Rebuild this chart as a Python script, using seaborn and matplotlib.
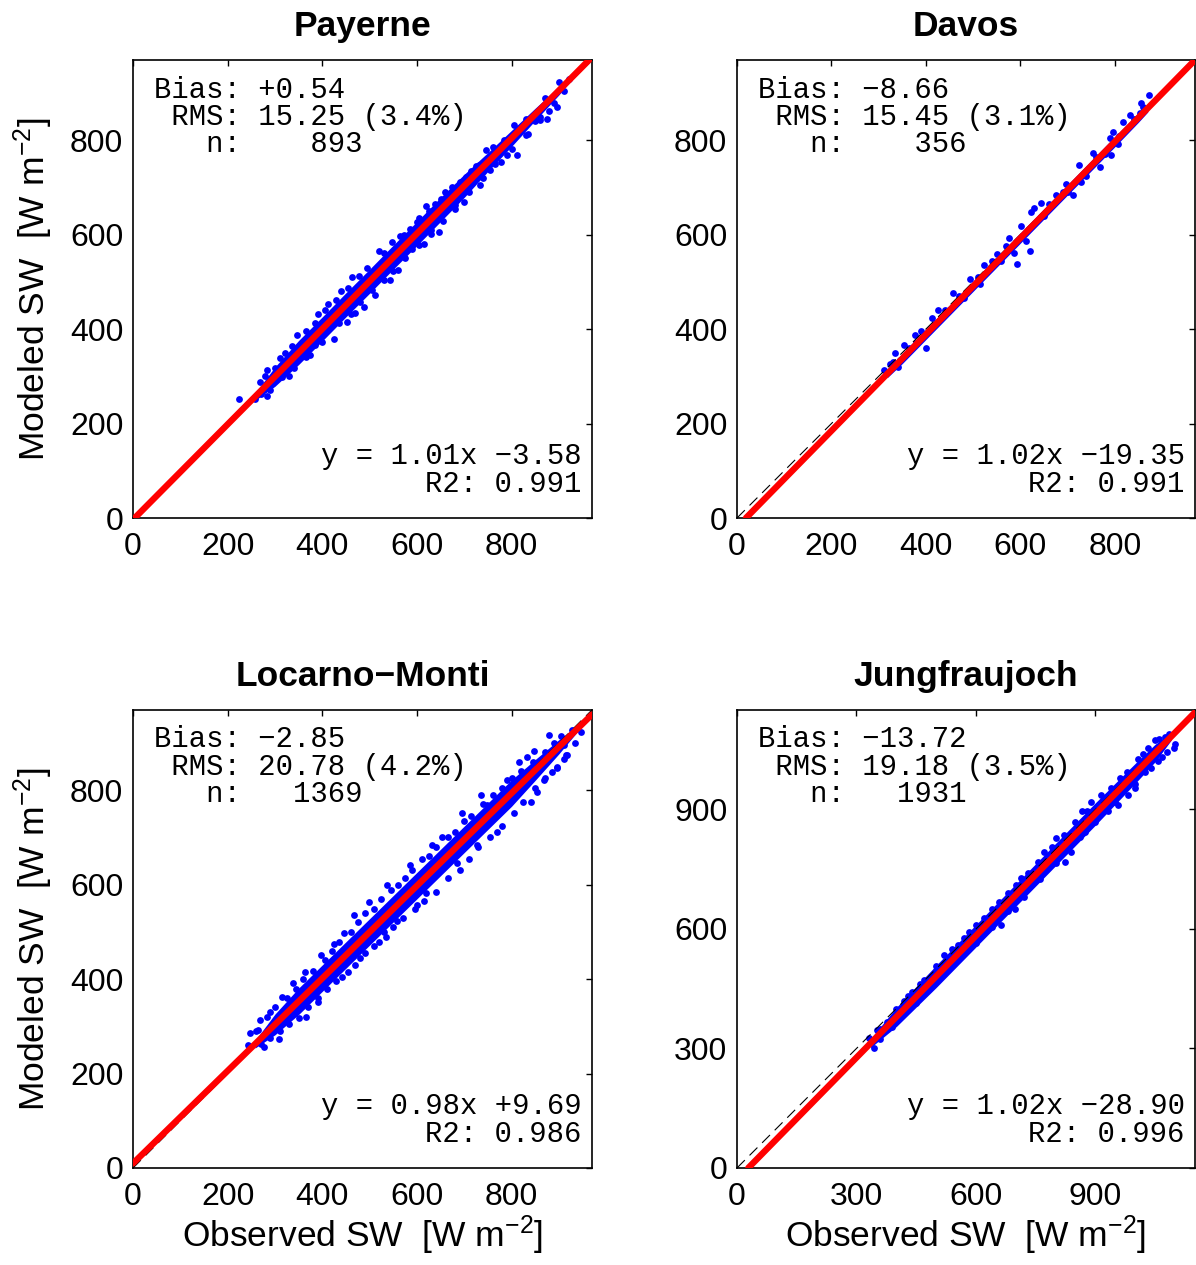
import matplotlib
matplotlib.use('Agg')
import matplotlib.pyplot as plt
import numpy as np
import pandas as pd
import seaborn as sns

sns.set_style('white')
plt.rcParams['font.family'] = ['Liberation Sans', 'DejaVu Sans']
plt.rcParams['mathtext.default'] = 'regular'
plt.rcParams['axes.unicode_minus'] = True
plt.rcParams['text.color'] = 'black'
plt.rcParams['axes.labelcolor'] = 'black'

# station statistics (as printed in each panel)
stations = ['Payerne', 'Davos', 'Locarno\u2212Monti', 'Jungfraujoch']
bias = ['+0.54', '\u22128.66', '\u22122.85', '\u221213.72']
rms = ['15.25', '15.45', '20.78', '19.18']
rms_pct = ['3.4', '3.1', '4.2', '3.5']
n_obs = [893, 356, 1369, 1931]
slope = [1.01, 1.02, 0.98, 1.02]
intercept = [-3.58, -19.35, 9.69, -28.90]
r2 = [0.991, 0.991, 0.986, 0.996]
axis_max = [970, 970, 970, 1150]
tick_vals = [[0, 200, 400, 600, 800], [0, 200, 400, 600, 800],
             [0, 200, 400, 600, 800], [0, 300, 600, 900]]

# dense core of each cloud (observed, lower / upper modeled edge)
pay_band_obs = [262, 300, 350, 400, 450, 500, 550, 600, 650, 700, 750, 800, 850, 900, 925]
pay_band_lo = [252, 279, 325, 375, 426, 476, 527, 577, 628, 679, 734, 787, 842, 896, 926]
pay_band_hi = [270, 320, 376, 426, 477, 527, 578, 628, 679, 728, 774, 821, 868, 914, 936]

dav_band_obs = [318, 350, 400, 450, 500, 550, 600, 650, 700, 750, 800, 850, 870]
dav_band_lo = [297, 327, 378, 429, 480, 531, 582, 633, 684, 735, 786, 838, 860]
dav_band_hi = [313, 349, 400, 451, 502, 553, 604, 655, 706, 757, 808, 858, 876]

loc_band_obs = [258, 300, 350, 400, 450, 500, 550, 600, 650, 700, 750, 800, 850, 900, 940]
loc_band_lo = [254, 282, 325, 374, 423, 472, 521, 570, 619, 668, 717, 766, 821, 877, 925]
loc_band_hi = [270, 326, 381, 430, 479, 528, 577, 626, 675, 724, 773, 822, 865, 907, 937]

jun_band_obs = [335, 400, 500, 600, 700, 800, 900, 1000, 1050, 1090]
jun_band_lo = [302, 355, 453, 555, 657, 759, 861, 966, 1020, 1074]
jun_band_hi = [324, 403, 509, 611, 713, 815, 917, 1016, 1064, 1092]

# scattered points around the core (observed, modeled)
pay_points = [(224, 253), (258, 252), (270, 262), (283, 258), (269, 289), (283, 313),
              (300, 318), (322, 349), (330, 300), (346, 387), (360, 372), (375, 345),
              (392, 433), (413, 454), (424, 380), (440, 480), (452, 415), (463, 511),
              (470, 435), (488, 447), (512, 472), (520, 565), (544, 504), (560, 525),
              (572, 599), (590, 570), (600, 627), (614, 581), (620, 660), (629, 602),
              (639, 666), (646, 606), (660, 691), (681, 662), (700, 670), (703, 722),
              (731, 747), (734, 705), (745, 780), (755, 736), (777, 754), (791, 768),
              (805, 832), (812, 768), (819, 828), (834, 814), (850, 840), (861, 842),
              (874, 846), (890, 878), (897, 871), (900, 923), (910, 905), (921, 930),
              (280, 300), (310, 338), (335, 365), (365, 395), (385, 412), (405, 440),
              (430, 462), (455, 488), (478, 512), (495, 530), (530, 562), (548, 585),
              (565, 598), (585, 612), (605, 635), (625, 650), (650, 676), (675, 700),
              (690, 712), (715, 735), (725, 745), (760, 785), (785, 800), (830, 845),
              (870, 890), (290, 272), (315, 298), (340, 318), (365, 340), (385, 366),
              (400, 372), (435, 412), (460, 432), (480, 458), (505, 482), (530, 505),
              (550, 524), (575, 550), (605, 578), (630, 610), (655, 628), (680, 655),
              (710, 690), (740, 720), (765, 750), (800, 782), (830, 812), (860, 850),
              (880, 862)]

dav_points = [(311, 314), (323, 327), (335, 350), (341, 320), (353, 366), (376, 387),
              (401, 359), (412, 423), (426, 441), (458, 476), (494, 506), (524, 536),
              (551, 559), (576, 594), (586, 562), (594, 538), (601, 618), (611, 586),
              (620, 565), (622, 647), (629, 657), (643, 668), (675, 683), (697, 708),
              (711, 683), (725, 747), (729, 711), (739, 725), (754, 772), (768, 743),
              (789, 804), (793, 768), (796, 818), (807, 793), (818, 839), (832, 853),
              (854, 857), (855, 878), (873, 896), (330, 330), (345, 335), (365, 360),
              (380, 370), (390, 395), (420, 410), (440, 440), (470, 470), (480, 465),
              (510, 510), (515, 495), (540, 545), (560, 545), (570, 575), (650, 640),
              (660, 665), (690, 690), (700, 690), (760, 765), (780, 770), (810, 810),
              (840, 845), (860, 870)]

loc_points = [(244, 260), (248, 285), (265, 292), (269, 313), (276, 257), (283, 320),
              (308, 274), (315, 363), (339, 391), (364, 416), (366, 320), (392, 352),
              (397, 451), (424, 475), (442, 405), (445, 497), (466, 535), (480, 445),
              (498, 564), (519, 478), (530, 500), (537, 600), (558, 522), (586, 641),
              (600, 557), (620, 582), (632, 684), (653, 701), (657, 645), (685, 645),
              (696, 751), (727, 684), (735, 789), (749, 768), (770, 712), (791, 821),
              (816, 860), (833, 870), (840, 775), (847, 884), (854, 796), (868, 821),
              (879, 916), (886, 839), (897, 848), (911, 867), (911, 895), (918, 874),
              (928, 927), (946, 923),
              (260, 290), (290, 330), (300, 340), (325, 360), (345, 380), (360, 400),
              (380, 418), (405, 440), (420, 460), (435, 478), (460, 500), (475, 520),
              (490, 540), (510, 548), (525, 570), (545, 588), (560, 600), (575, 615),
              (590, 630), (610, 655), (625, 660), (640, 680), (665, 700), (680, 712),
              (700, 735), (715, 745), (740, 770), (760, 790), (780, 805), (800, 825),
              (820, 840), (845, 860), (870, 880), (890, 900), (905, 915),
              (270, 262), (290, 275), (310, 290), (330, 305), (350, 318), (370, 340),
              (390, 360), (410, 380), (430, 396), (455, 415), (470, 430), (490, 455),
              (510, 470), (535, 490), (550, 510), (570, 530), (595, 548), (615, 565),
              (640, 585), (665, 615), (690, 630), (710, 655), (730, 680), (755, 700),
              (780, 725), (805, 752), (825, 775), (850, 805), (870, 825), (895, 850),
              (915, 875), (935, 900)]

jun_points = [(331, 326), (344, 300), (352, 346), (377, 367), (419, 418), (440, 443),
              (470, 472), (520, 535), (554, 560), (583, 593), (621, 627), (659, 669),
              (680, 690), (663, 610), (697, 650), (713, 728), (755, 769), (772, 794),
              (802, 828), (823, 769), (839, 794), (848, 869), (865, 895), (874, 844),
              (890, 920), (915, 936), (932, 895), (957, 911), (961, 978), (982, 936),
              (999, 953), (1008, 1028), (1033, 1054), (1050, 1074), (1075, 1083),
              (1096, 1054), (1067, 1033), (1024, 995), (1058, 1021),
              (360, 350), (400, 400), (430, 433), (460, 462), (500, 508), (540, 550),
              (570, 578), (600, 610), (640, 650), (700, 710), (730, 740), (790, 805),
              (820, 835), (880, 895), (940, 955), (980, 995), (1020, 1040), (1060, 1078),
              (1085, 1090), (360, 325), (390, 355), (420, 390), (450, 415), (490, 460),
              (530, 500), (560, 530), (600, 565), (640, 605), (680, 645), (720, 680),
              (760, 725), (800, 765), (860, 830), (900, 868), (950, 920), (1000, 965),
              (1040, 1005), (1080, 1045), (1100, 1065)]

bands = [(pay_band_obs, pay_band_lo, pay_band_hi), (dav_band_obs, dav_band_lo, dav_band_hi),
         (loc_band_obs, loc_band_lo, loc_band_hi), (jun_band_obs, jun_band_lo, jun_band_hi)]
points = [pay_points, dav_points, loc_points, jun_points]

fig = plt.figure(figsize=(11.96, 12.65), dpi=100)
rects = [[0.1112, 0.5905, 0.3838, 0.3621], [0.6162, 0.5905, 0.3830, 0.3621],
         [0.1112, 0.0767, 0.3838, 0.3621], [0.6162, 0.0767, 0.3830, 0.3621]]

mono = ['Liberation Mono', 'DejaVu Sans Mono']

for i in range(4):
    ax = fig.add_axes(rects[i])
    b_obs, b_lo, b_hi = bands[i]
    ax.fill_between(b_obs, b_lo, b_hi, color='blue', lw=0, zorder=2)
    df = pd.DataFrame(points[i], columns=['obs', 'mod'])
    sns.scatterplot(data=df, x='obs', y='mod', color='blue', s=24, linewidth=0,
                    ax=ax, zorder=2)
    ax.axline((0, 0), slope=1, color='black', lw=0.8, ls=(0, (10, 6)), zorder=3)
    ax.axline((0, intercept[i]), slope=slope[i], color='red', lw=4.6, zorder=4)

    ax.set_xlim(0, axis_max[i])
    ax.set_ylim(0, axis_max[i])
    ax.set_xticks(tick_vals[i])
    ax.set_yticks(tick_vals[i])
    ax.tick_params(direction='in', length=4, width=1, top=True, right=True,
                   labelsize=23, colors='black')
    ax.tick_params(axis='x', pad=10)
    ax.tick_params(axis='y', pad=7)
    for sp in ax.spines.values():
        sp.set_color('black')
        sp.set_linewidth(1.2)

    ax.set_title(stations[i], fontsize=25.5, fontweight='bold', pad=17)

    if i in (0, 2):
        ax.set_ylabel('Modeled SW  [W m$^{-2}$]', fontsize=25.5)
        ax.yaxis.label.set_va('baseline')
        ax.yaxis.set_label_coords(-0.192, 0.5)
    else:
        ax.set_ylabel('')
    if i in (2, 3):
        ax.set_xlabel('Observed SW  [W m$^{-2}$]', fontsize=25.5)
        ax.xaxis.label.set_va('baseline')
        ax.xaxis.set_label_coords(0.5, -0.172)
    else:
        ax.set_xlabel('')

    top_lines = [f'Bias: {bias[i]}',
                 f' RMS: {rms[i]} ({rms_pct[i]}%)',
                 f'   n: {n_obs[i]:6d}']
    for k, line in enumerate(top_lines):
        ax.text(0.045, 0.918 - 0.06 * k, line, transform=ax.transAxes,
                family=mono, fontsize=20.8, ha='left', va='baseline')
    fit_txt = f'y = {slope[i]:.2f}x {intercept[i]:+.2f}'.replace('-', '\u2212')
    bottom_lines = [fit_txt, f'R2: {r2[i]:.3f}']
    for k, line in enumerate(bottom_lines):
        ax.text(0.977, 0.117 - 0.06 * k, line, transform=ax.transAxes,
                family=mono, fontsize=20.8, ha='right', va='baseline')

fig.savefig('out.png', dpi=100, facecolor='white')
